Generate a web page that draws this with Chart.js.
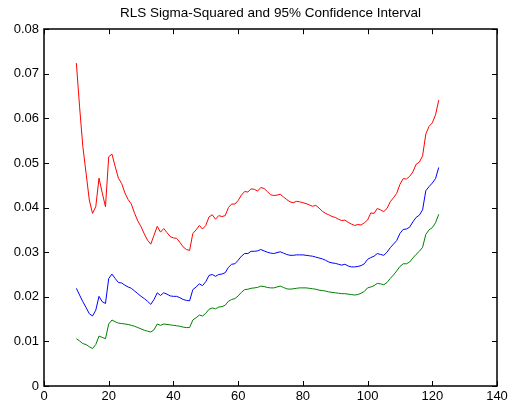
<!DOCTYPE html>
<html>
<head>
<meta charset="utf-8">
<script src="https://cdn.jsdelivr.net/npm/chart.js@4/dist/chart.umd.min.js"></script>
<style>
  html, body { margin: 0; padding: 0; background: #fff; }
  #wrap { width: 513px; height: 406px; }
</style>
</head>
<body>
<div id="wrap"><canvas id="rlsChart"></canvas></div>
<script>
// x = amostra (10..122)
const amostras = [];
for (let k = 10; k <= 122; k++) amostras.push(k);

const limiteSuperior = [
  0.0724, 0.0626, 0.0537, 0.0477, 0.0417, 0.0387, 0.0402, 0.0466, 0.0433, 0.0402,
  0.0514, 0.0520, 0.0492, 0.0466, 0.0454, 0.0433, 0.0418, 0.0408, 0.0387, 0.0370,
  0.0357, 0.0341, 0.0327, 0.0318, 0.0338, 0.0358, 0.0345, 0.0353, 0.0344, 0.0335,
  0.0332, 0.0331, 0.0322, 0.0312, 0.0306, 0.0304, 0.0342, 0.0350, 0.0360, 0.0352,
  0.0360, 0.0379, 0.0384, 0.0374, 0.0382, 0.0380, 0.0382, 0.0400, 0.0408, 0.0408,
  0.0416, 0.0428, 0.0436, 0.0435, 0.0442, 0.0441, 0.0437, 0.0445, 0.0443, 0.0436,
  0.0429, 0.0427, 0.0428, 0.0430, 0.0424, 0.0418, 0.0413, 0.0411, 0.0414, 0.0413,
  0.0411, 0.0409, 0.0406, 0.0403, 0.0405, 0.0399, 0.0392, 0.0387, 0.0384, 0.0380,
  0.0378, 0.0374, 0.0371, 0.0372, 0.0367, 0.0363, 0.0360, 0.0362, 0.0361, 0.0366,
  0.0372, 0.0388, 0.0387, 0.0398, 0.0395, 0.0391, 0.0398, 0.0413, 0.0422, 0.0432,
  0.0452, 0.0465, 0.0464, 0.0470, 0.0480, 0.0497, 0.0502, 0.0516, 0.0565, 0.0582,
  0.0590, 0.0608, 0.0641
];

const sigma2 = [
  0.0219, 0.0204, 0.0189, 0.0176, 0.0162, 0.0157, 0.0170, 0.0201, 0.0189, 0.0185,
  0.0241, 0.0251, 0.0241, 0.0232, 0.0231, 0.0226, 0.0222, 0.0219, 0.0213, 0.0207,
  0.0201, 0.0196, 0.0190, 0.0183, 0.0194, 0.0209, 0.0203, 0.0209, 0.0206, 0.0202,
  0.0201, 0.0201, 0.0198, 0.0194, 0.0192, 0.0191, 0.0216, 0.0222, 0.0229, 0.0225,
  0.0234, 0.0248, 0.0250, 0.0246, 0.0250, 0.0251, 0.0254, 0.0266, 0.0273, 0.0274,
  0.0282, 0.0291, 0.0297, 0.0297, 0.0302, 0.0302, 0.0303, 0.0306, 0.0303, 0.0300,
  0.0298, 0.0297, 0.0299, 0.0301, 0.0298, 0.0295, 0.0293, 0.0293, 0.0294, 0.0294,
  0.0294, 0.0293, 0.0292, 0.0291, 0.0289, 0.0287, 0.0285, 0.0282, 0.0278, 0.0276,
  0.0275, 0.0273, 0.0271, 0.0273, 0.0269, 0.0267, 0.0267, 0.0268, 0.0270, 0.0274,
  0.0284, 0.0288, 0.0291, 0.0297, 0.0295, 0.0293, 0.0300, 0.0310, 0.0318, 0.0326,
  0.0342, 0.0351, 0.0352, 0.0356, 0.0368, 0.0378, 0.0383, 0.0395, 0.0438, 0.0447,
  0.0455, 0.0465, 0.0490
];

const limiteInferior = [
  0.0106, 0.0101, 0.0095, 0.0093, 0.0088, 0.0084, 0.0093, 0.0112, 0.0109, 0.0106,
  0.0139, 0.0148, 0.0144, 0.0141, 0.0140, 0.0139, 0.0138, 0.0136, 0.0134, 0.0131,
  0.0128, 0.0125, 0.0123, 0.0121, 0.0126, 0.0139, 0.0136, 0.0139, 0.0138, 0.0137,
  0.0136, 0.0135, 0.0134, 0.0132, 0.0131, 0.0131, 0.0148, 0.0153, 0.0159, 0.0157,
  0.0163, 0.0172, 0.0175, 0.0173, 0.0177, 0.0178, 0.0181, 0.0190, 0.0194, 0.0196,
  0.0202, 0.0210, 0.0216, 0.0217, 0.0219, 0.0220, 0.0221, 0.0224, 0.0223, 0.0221,
  0.0220, 0.0220, 0.0222, 0.0224, 0.0221, 0.0218, 0.0217, 0.0218, 0.0219, 0.0220,
  0.0220, 0.0220, 0.0219, 0.0218, 0.0217, 0.0215, 0.0214, 0.0213, 0.0211, 0.0210,
  0.0209, 0.0208, 0.0207, 0.0207, 0.0206, 0.0205, 0.0204, 0.0205, 0.0208, 0.0212,
  0.0220, 0.0222, 0.0225, 0.0230, 0.0229, 0.0227, 0.0232, 0.0241, 0.0249, 0.0258,
  0.0268, 0.0274, 0.0274, 0.0278, 0.0287, 0.0295, 0.0302, 0.0311, 0.0340, 0.0350,
  0.0355, 0.0366, 0.0385
];

const xTicks = [0, 20, 40, 60, 80, 100, 120, 140];
const yTicks = [0, 0.01, 0.02, 0.03, 0.04, 0.05, 0.06, 0.07, 0.08];

const pontos = serie => amostras.map((x, i) => ({ x, y: serie[i] }));

// caixa estilo MATLAB com ticks para dentro
const caixaPlugin = {
  id: 'caixa',
  afterDraw(chart) {
    const { ctx, chartArea: a, scales } = chart;
    const t = 5;
    ctx.save();
    ctx.strokeStyle = '#000';
    ctx.lineWidth = 1.5;
    ctx.strokeRect(Math.round(a.left), Math.round(a.top),
      Math.round(a.right - a.left), Math.round(a.bottom - a.top));
    ctx.lineWidth = 1;
    ctx.beginPath();
    xTicks.forEach(v => {
      const px = Math.round(scales.x.getPixelForValue(v)) + 0.5;
      ctx.moveTo(px, a.bottom); ctx.lineTo(px, a.bottom - t);
      ctx.moveTo(px, a.top); ctx.lineTo(px, a.top + t);
    });
    yTicks.forEach(v => {
      const py = Math.round(scales.y.getPixelForValue(v)) + 0.5;
      ctx.moveTo(a.left, py); ctx.lineTo(a.left + t, py);
      ctx.moveTo(a.right, py); ctx.lineTo(a.right - t, py);
    });
    ctx.stroke();
    ctx.restore();
  }
};

const fonteTicks = { family: 'Liberation Sans, Arial, sans-serif', size: 13 };

new Chart(document.getElementById('rlsChart'), {
  type: 'line',
  data: {
    datasets: [
      { label: 'Upper', data: pontos(limiteSuperior), borderColor: '#ff0000' },
      { label: 'Sigma2', data: pontos(sigma2), borderColor: '#0000ff' },
      { label: 'Lower', data: pontos(limiteInferior), borderColor: '#008000' },
    ]
  },
  options: {
    responsive: true,
    maintainAspectRatio: false,
    animation: false,
    layout: { padding: { left: 0, right: 16, top: 0, bottom: 0 } },
    elements: {
      line: { borderWidth: 1, tension: 0 },
      point: { radius: 0 }
    },
    plugins: {
      legend: { display: false },
      tooltip: { enabled: false },
      title: {
        display: true,
        text: 'RLS Sigma-Squared and 95% Confidence Interval',
        color: '#000',
        fullSize: false,
        font: { family: 'Liberation Sans, Arial, sans-serif', size: 13.5, weight: 'normal' },
        padding: { top: 5, bottom: 8 }
      }
    },
    scales: {
      x: {
        type: 'linear',
        min: 0, max: 140,
        afterBuildTicks: s => { s.ticks = xTicks.map(v => ({ value: v })); },
        afterFit: s => { s.height = 20; },
        ticks: { color: '#000', font: fonteTicks, padding: 3, maxRotation: 0 },
        grid: { display: false, drawTicks: false },
        border: { display: false }
      },
      y: {
        min: 0, max: 0.08,
        afterBuildTicks: s => { s.ticks = yTicks.map(v => ({ value: v })); },
        afterFit: s => { s.width = 44; },
        ticks: {
          color: '#000', font: fonteTicks, padding: 5,
          callback: v => v === 0 ? '0' : v.toFixed(2)
        },
        grid: { display: false, drawTicks: false },
        border: { display: false }
      }
    }
  },
  plugins: [caixaPlugin]
});
</script>
</body>
</html>
